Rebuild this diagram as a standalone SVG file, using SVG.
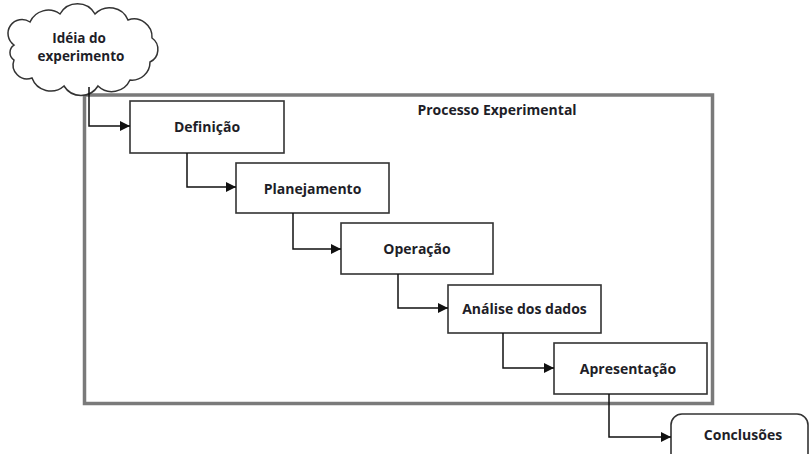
<svg xmlns="http://www.w3.org/2000/svg" width="809" height="454" viewBox="0 0 809 454">
<style>
.box{fill:#fff;stroke:#333;stroke-width:1.6}
.lbl{font-family:"Open Sans","Liberation Sans",sans-serif;font-weight:700;font-size:14px;fill:#1e1e28;text-anchor:middle}
.cl{font-size:13.5px}
.conn{fill:none;stroke:#111;stroke-width:1.5}
</style>
<defs>
<marker id="arr" markerUnits="userSpaceOnUse" markerWidth="10" markerHeight="10" refX="10" refY="5" orient="auto">
<path d="M0 0 L10 5 L0 10 Z" fill="#111"/>
</marker>
</defs>
<rect width="809" height="454" fill="#fff"/>
<g id="frame">
<rect x="84.5" y="95" width="628" height="308.5" fill="none" stroke="#7a7a7a" stroke-width="3.5"/>
<text class="lbl" x="497" y="115">Processo Experimental</text>
</g>
<g id="cloud">
<path d="M14 45 A14 14 0 0 1 30 22 A20 20 0 0 1 60 14 A20 20 0 0 1 95 14 A20 20 0 0 1 128 20 A18 18 0 0 1 152 38 A14 14 0 0 1 150 62 A18 18 0 0 1 130 80 A20 20 0 0 1 98 86 A20 20 0 0 1 64 86 A20 20 0 0 1 32 78 A14 14 0 0 1 14 60 A9 9 0 0 1 14 45 Z" fill="#fff" stroke="#333" stroke-width="1.5"/>
<text class="lbl cl" x="79" y="43">Idéia do</text>
<text class="lbl cl" x="81" y="61">experimento</text>
</g>
<g id="definicao">
<rect class="box" x="130" y="101" width="154" height="52"/>
<text class="lbl" x="207" y="132">Definição</text>
</g>
<g id="planejamento">
<rect class="box" x="236" y="163" width="153" height="50"/>
<text class="lbl" x="312.5" y="194">Planejamento</text>
</g>
<g id="operacao">
<rect class="box" x="341" y="223" width="152" height="51"/>
<text class="lbl" x="417" y="254">Operação</text>
</g>
<g id="analise">
<rect class="box" x="448" y="285" width="153" height="48"/>
<text class="lbl" x="524.5" y="314">Análise dos dados</text>
</g>
<g id="apresentacao">
<rect class="box" x="554" y="343" width="153" height="51"/>
<text class="lbl" x="628" y="374">Apresentação</text>
</g>
<g id="conclusoes">
<rect class="box" x="671" y="414" width="137" height="60" rx="11" ry="11"/>
<text class="lbl" x="743" y="440">Conclusões</text>
</g>
<g id="connectors">
<path class="conn" d="M89 87 V126 H130" marker-end="url(#arr)"/>
<path class="conn" d="M187 153 V187 H236" marker-end="url(#arr)"/>
<path class="conn" d="M293 213 V249 H341" marker-end="url(#arr)"/>
<path class="conn" d="M398 274 V308 H448" marker-end="url(#arr)"/>
<path class="conn" d="M503 333 V368 H554" marker-end="url(#arr)"/>
<path class="conn" d="M609 394 V437 H671" marker-end="url(#arr)"/>
</g>
</svg>
